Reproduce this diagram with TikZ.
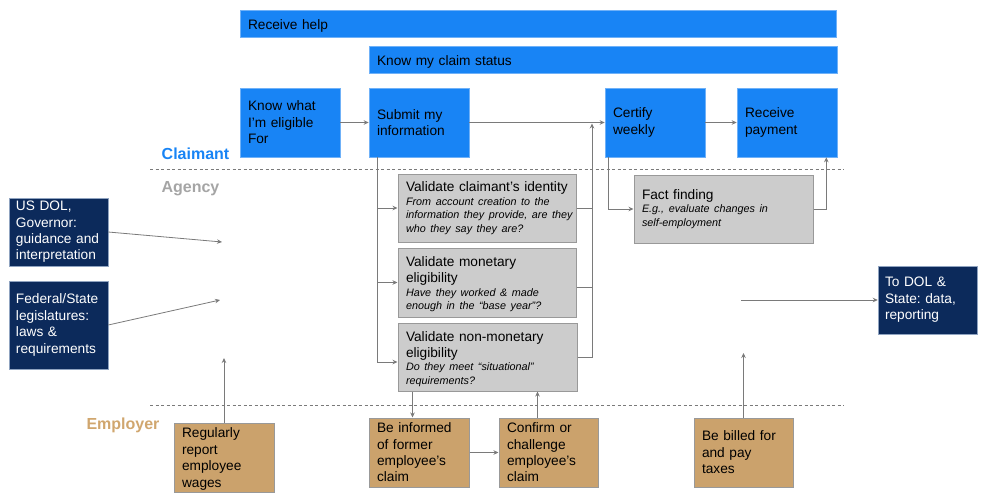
\documentclass[tikz,border=0pt]{standalone}
\usepackage{fontspec}
\setmainfont{Liberation Sans}
\usetikzlibrary{arrows.meta}
\definecolor{cblue}{HTML}{1884F5}
\definecolor{cblueb}{HTML}{6FB1F8}
\definecolor{cnavy}{HTML}{0C2A5B}
\definecolor{cnavyb}{HTML}{8FA3C0}
\definecolor{ctan}{HTML}{CBA26C}
\definecolor{ctanlab}{HTML}{D0A66E}
\definecolor{cgray}{HTML}{CCCCCC}
\definecolor{cbord}{HTML}{999999}
\definecolor{cline}{HTML}{7A7A7A}
\definecolor{clab}{HTML}{A5A5A5}
\newcommand\mysub{\fontsize{10.8}{13.6}\selectfont\itshape}
\newcommand\myttl{\fontsize{13.7}{15.6}\selectfont}
\begin{document}
\begin{tikzpicture}[x=1pt,y=-1pt,
 base/.style={inner xsep=8pt, inner ysep=0pt, align=left, font=\fontsize{13.7}{16.4}\selectfont\frenchspacing},
 bluebox/.style={base, fill=cblue, draw=cblueb, line width=0.6pt},
 graybox/.style={base, fill=cgray, draw=cbord, line width=1pt},
 tanbox/.style={base, fill=ctan, draw=cbord, line width=1pt},
 navybox/.style={base, inner xsep=7pt, fill=cnavy, draw=cnavyb, line width=0.5pt, text=white},
 conn/.style={draw=cline, line width=0.8pt},
 arr/.style={conn, -{Stealth[length=5pt,width=4.5pt]}},
 sep/.style={draw=cline, line width=0.7pt, dash pattern=on 3pt off 2.5pt},
 lane/.style={font=\bfseries\fontsize{16}{19}\selectfont, inner sep=0pt}]
\useasboundingbox (0,0) rectangle (986,495);

% lane separators
\coordinate (d1a) at (150,169); \coordinate (d1b) at (844,169);
\coordinate (d2a) at (150,405); \coordinate (d2b) at (844,405);
\draw[sep] (d1a) -- (d1b);
\draw[sep] (d2a) -- (d2b);

% lane labels
\node[lane, text=cblue] (lclaim) at (195.5,154) {Claimant};
\node[lane, text=clab] (lagency) at (190.5,189) {Agency};
\node[lane, text=ctanlab] (lemp) at (123,425) {Employer};

% claimant
\node[bluebox, minimum width=596pt, text width=580pt, minimum height=27pt] (help) at (538,24) {\rule{0pt}{14pt}Receive help};
\node[bluebox, minimum width=468pt, text width=452pt, minimum height=27pt] (status) at (603,60) {\rule{0pt}{14pt}Know my claim status};
\node[bluebox, minimum width=100pt, text width=84pt, minimum height=69pt] (know) at (290,122.5) {Know what\\I’m eligible\\For};
\node[bluebox, minimum width=100pt, text width=84pt, minimum height=69pt] (submit) at (419,122.5) {Submit my\\information};
\node[bluebox, minimum width=100pt, text width=84pt, minimum height=69pt] (certify) at (655,122.5) {Certify\\weekly};
\node[bluebox, minimum width=100pt, text width=84pt, minimum height=69pt] (pay) at (787,122.5) {Receive\\payment};

% agency
\node[graybox, minimum width=178pt, text width=162pt, minimum height=68pt] (ident) at (487,208)
 {\myttl\mbox{Validate claimant’s identity}\par\mysub\mbox{From account creation to the}\\\mbox{information they provide, are they}\\\mbox{who they say they are?}\par};
\node[graybox, minimum width=178pt, text width=162pt, minimum height=69pt] (mon) at (487,282.5)
 {\myttl\rule{0pt}{14pt}Validate monetary\\eligibility\par\mysub Have they worked \& made\\enough in the “base year”?\par};
\node[graybox, minimum width=179pt, text width=163pt, minimum height=68pt] (non) at (487.5,357)
 {\myttl\rule{0pt}{14pt}Validate non-monetary\\eligibility\par\mysub Do they meet “situational”\\requirements?\par};
\node[graybox, minimum width=179pt, text width=163pt, minimum height=68pt] (fact) at (723.5,209)
 {\myttl Fact finding\par\mysub E.g., evaluate changes in\\self-employment\par};

% outside
\node[navybox, minimum width=99pt, text width=85pt, minimum height=68pt] (usdol) at (58.5,232) {US DOL,\\Governor:\\guidance and\\interpretation};
\node[navybox, minimum width=99pt, text width=85pt, minimum height=88pt] (fed) at (58.5,325) {Federal/State\\legislatures:\\laws \&\\requirements};
\node[navybox, minimum width=99pt, text width=85pt, minimum height=68pt] (tostate) at (927.5,300) {To DOL \&\\State: data,\\reporting};

% employer
\node[tanbox, minimum width=100pt, text width=84pt, minimum height=69pt] (report) at (224,457.5) {\rule{0pt}{13pt}Regularly\\report\\employee\\wages};
\node[tanbox, minimum width=100pt, text width=84pt, minimum height=69pt] (inform) at (419,452.5) {Be informed\\of former\\employee’s\\claim};
\node[tanbox, minimum width=99pt, text width=83pt, minimum height=69pt] (confirm) at (548.5,452.5) {Confirm or\\challenge\\employee’s\\claim};
\node[tanbox, minimum width=99pt, text width=83pt, minimum height=69pt] (billed) at (743.5,452.5) {Be billed for\\and pay\\taxes};

% free ends
\coordinate (g1) at (222,242);
\coordinate (g2) at (220,300);
\coordinate (rpend) at (224,358);
\coordinate (bend) at (743.5,353);
\coordinate (tsstart) at (741,300);
\coordinate (merge) at (592,123.5);
\coordinate (subout) at ([xshift=9pt]submit.south west);
\coordinate (monr) at ([yshift=-4.5pt]mon.east);
\coordinate (nonin) at ([yshift=-5pt]non.west);
\coordinate (certout) at ([xshift=4pt]certify.south west);
\coordinate (payin) at ([xshift=-11pt]pay.south east);
\coordinate (nonout) at ([xshift=15pt]non.south west);
\coordinate (confout) at ([xshift=39pt]confirm.north west);

% connectors
\draw[arr] (know) -- (submit);
\draw[arr] (submit) -- (certify);
\draw[arr] (certify) -- (pay);
\draw[arr] (subout) |- (ident.west);
\draw[arr] (subout) |- (mon.west);
\draw[arr] (subout) |- (nonin);
\draw[conn] (ident.east) -- (ident.east -| merge);
\draw[conn] (monr) -- (monr -| merge);
\draw[arr] (non.east) -| (merge);
\draw[arr] (certout) |- (fact.west);
\draw[arr] (fact.east) -| (payin);
\draw[arr] (nonout) -- (nonout |- inform.north);
\draw[arr] (confout) -- (confout |- non.south);
\draw[arr] (inform) -- (confirm);
\draw[arr] (report) -- (rpend);
\draw[arr] (billed) -- (bend);
\draw[arr] (tsstart) -- (tostate);
\draw[arr] (usdol.east) -- (g1);
\draw[arr] (fed.east) -- (g2);
\end{tikzpicture}
\end{document}
